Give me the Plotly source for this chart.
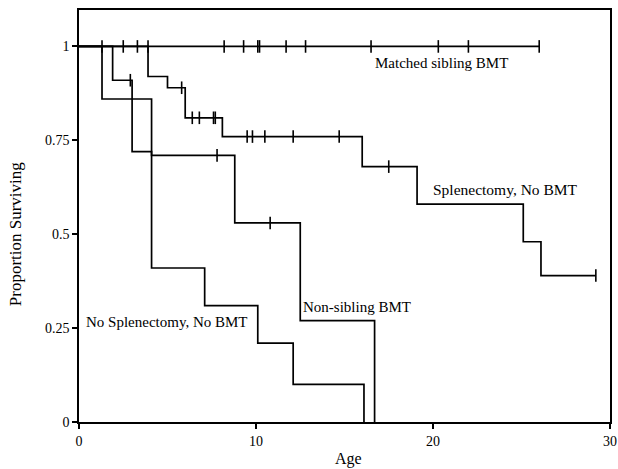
import plotly.graph_objects as go
import numpy as np

# ---- data ----
matched_t = [0, 26.0]
matched_s = [1.0, 1.0]
matched_c = [1.3, 2.5, 3.3, 3.9, 8.2, 9.3, 10.1, 10.2, 11.7, 12.8, 16.5, 20.3, 22.0, 26.0]

splen_t = [0, 3.9, 5.0, 6.0, 8.1, 16.0, 19.1, 25.1, 26.1, 29.2]
splen_s = [1.0, 0.92, 0.89, 0.81, 0.76, 0.68, 0.58, 0.48, 0.39, 0.39]
splen_c = [5.8, 6.4, 6.8, 7.6, 7.7, 9.5, 9.8, 10.5, 12.1, 14.7, 17.5, 29.2]

nonsib_t = [0, 1.9, 3.0, 4.1, 8.8, 12.5, 16.7]
nonsib_s = [1.0, 0.91, 0.72, 0.71, 0.53, 0.27, 0.0]
nonsib_c = [2.9, 7.8, 10.8]

nospl_t = [0, 1.3, 4.1, 7.1, 10.1, 12.1, 16.1]
nospl_s = [1.0, 0.86, 0.41, 0.31, 0.21, 0.10, 0.0]
nospl_c = []

labels = ["Matched sibling BMT", "Splenectomy, No BMT", "Non-sibling BMT", "No Splenectomy, No BMT"]
label_x = [20.5, 24.1, 15.7, 4.97]
label_y = [0.956, 0.618, 0.307, 0.267]

x_ticks = [0, 10, 20, 30]
y_ticks = [0, 0.25, 0.5, 0.75, 1]
y_ticklabels = ["0", "0.25", "0.5", "0.75", "1"]

FONT = "Liberation Serif, Times New Roman, Times, DejaVu Serif, serif"


def step_val(t, s, x):
    idx = np.searchsorted(np.array(t), x, side="right") - 1
    return s[max(idx, 0)]


fig = go.Figure()
groups = [(matched_t, matched_s, matched_c), (splen_t, splen_s, splen_c),
          (nonsib_t, nonsib_s, nonsib_c), (nospl_t, nospl_s, nospl_c)]
for t, s, c in groups:
    fig.add_trace(go.Scatter(x=t, y=s, mode="lines", line=dict(color="black", width=1.7, shape="hv"),
                             showlegend=False, hoverinfo="skip"))
    if c:
        fig.add_trace(go.Scatter(x=c, y=[step_val(t, s, v) for v in c], mode="markers",
                                 marker=dict(symbol="line-ns", size=9, line=dict(color="black", width=1.6)),
                                 showlegend=False, hoverinfo="skip"))

label_sizes = [15, 15.5, 15, 15]
for txt, lx, ly, fs in zip(labels, label_x, label_y, label_sizes):
    fig.add_annotation(x=lx, y=ly, text=txt, showarrow=False, xanchor="center", yanchor="middle",
                       font=dict(family=FONT, size=fs, color="black"))

fig.add_annotation(x=15.2, y=0, xref="x", yref="paper", text="Age", showarrow=False,
                   yanchor="middle", yshift=-37, font=dict(family=FONT, size=16, color="black"))
fig.add_annotation(x=0, y=0.5, xref="paper", yref="y", text="Proportion Surviving", showarrow=False,
                   textangle=-90, xanchor="center", xshift=-64, font=dict(family=FONT, size=17, color="black"))

fig.update_layout(
    width=618, height=469,
    margin=dict(l=79, r=8, t=10, b=47, autoexpand=False),
    paper_bgcolor="white", plot_bgcolor="white",
    font=dict(family=FONT, size=14, color="black"),
)
fig.update_xaxes(range=[0, 30], tickvals=x_ticks, ticks="outside", ticklen=5, tickwidth=1.5,
                 tickcolor="black", showline=True, linecolor="black", linewidth=1.6, mirror=True,
                 showgrid=False, zeroline=False, tickfont=dict(family=FONT, size=14))
fig.update_yaxes(range=[0, 1.097], tickvals=y_ticks, ticktext=y_ticklabels, ticks="outside", ticklen=5,
                 tickwidth=1.5, tickcolor="black", showline=True, linecolor="black", linewidth=1.6,
                 mirror=True, showgrid=False, zeroline=False, tickfont=dict(family=FONT, size=14))

fig.write_html("out.html", config={"displayModeBar": False},
               post_script="document.body.style.margin='0';")
